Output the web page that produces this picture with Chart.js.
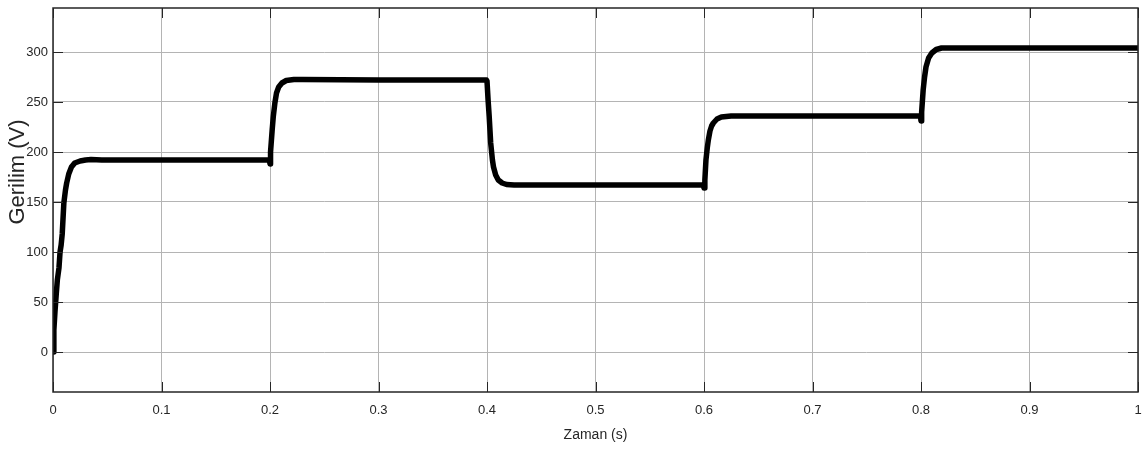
<!DOCTYPE html>
<html>
<head>
<meta charset="utf-8">
<script src="https://cdn.jsdelivr.net/npm/chart.js@4/dist/chart.umd.min.js"></script>
<style>
  html, body { margin: 0; padding: 0; background: #fff; }
  #voltChart { display: block; }
</style>
</head>
<body>
<canvas id="voltChart" width="1148" height="454"></canvas>
<script>
// time (s) and voltage (V)
var timeVals = [
  0, 0.0008, 0.0018, 0.003, 0.004, 0.0055, 0.0065, 0.0075, 0.0085, 0.010, 0.0115, 0.0126, 0.0145, 0.017, 0.020, 0.025, 0.030, 0.035, 0.045, 0.1, 0.1995,
  0.2, 0.2005, 0.202, 0.203, 0.2045, 0.206, 0.208, 0.211, 0.215, 0.222, 0.23, 0.3, 0.3995,
  0.4, 0.401, 0.402, 0.4034, 0.405, 0.406, 0.408, 0.4104, 0.414, 0.418, 0.425, 0.5, 0.5995,
  0.6, 0.6008, 0.6018, 0.603, 0.604, 0.6055, 0.607, 0.6086, 0.612, 0.616, 0.625, 0.7, 0.7995,
  0.8, 0.8006, 0.802, 0.8033, 0.8046, 0.807, 0.81, 0.814, 0.819, 0.83, 0.9, 1.0
];
var voltVals = [
  0, 22, 40, 58, 72, 84, 100, 107, 118, 149, 162, 169, 178, 185, 189, 191, 192, 192.5, 192, 192, 192,
  188, 200, 222, 235, 249, 259, 265, 269, 271.5, 272.5, 272.5, 272, 272,
  271, 252, 236, 209, 192, 185, 177, 172, 169, 167.5, 167, 167, 167,
  164, 172, 192, 204, 212, 221, 226, 229, 233, 235, 236, 236, 236,
  231, 240, 262, 275, 285, 294, 299, 302.5, 304, 304, 304, 304
];

var xTicks = [0, 0.1, 0.2, 0.3, 0.4, 0.5, 0.6, 0.7, 0.8, 0.9, 1];
var xTickLabels = ["0", "0.1", "0.2", "0.3", "0.4", "0.5", "0.6", "0.7", "0.8", "0.9", "1"];
var yTicks = [0, 50, 100, 150, 200, 250, 300];
var yTickLabels = ["0", "50", "100", "150", "200", "250", "300"];

var xMin = 0, xMax = 1;
var yMin = -40, yMax = 344;

var fontFamily = "'Liberation Sans', Arial, sans-serif";
var tickFont = { family: fontFamily, size: 13 };
var textColor = "#262626";
var gridColor = "#b4b4b4";

// MATLAB style box with ticks pointing inward
var frameTicks = {
  id: "frameTicks",
  afterDraw: function(chart) {
    var ctx = chart.ctx;
    var a = chart.chartArea;
    var x = chart.scales.x, y = chart.scales.y;
    ctx.save();
    ctx.strokeStyle = textColor;
    ctx.lineWidth = 1;
    ctx.beginPath();
    x.ticks.forEach(function(t) {
      var px = Math.round(x.getPixelForValue(t.value)) + 0.5;
      ctx.moveTo(px, a.bottom); ctx.lineTo(px, a.bottom - 10);
      ctx.moveTo(px, a.top); ctx.lineTo(px, a.top + 10);
    });
    y.ticks.forEach(function(t) {
      var py = Math.round(y.getPixelForValue(t.value)) + 0.5;
      ctx.moveTo(a.left, py); ctx.lineTo(a.left + 10, py);
      ctx.moveTo(a.right, py); ctx.lineTo(a.right - 10, py);
    });
    ctx.stroke();
    ctx.lineWidth = 1.5;
    ctx.strokeRect(a.left, a.top, a.right - a.left, a.bottom - a.top);

    // y axis title sits a bit above the axis middle in the original
    ctx.fillStyle = textColor;
    ctx.font = "22px " + fontFamily;
    ctx.textAlign = "center";
    ctx.textBaseline = "middle";
    ctx.translate(18, 172);
    ctx.rotate(-Math.PI / 2);
    ctx.fillText("Gerilim (V)", 0, 0);
    ctx.restore();
  }
};

var points = timeVals.map(function(t, i) { return { x: t, y: voltVals[i] }; });

new Chart(document.getElementById("voltChart").getContext("2d"), {
  type: "line",
  data: {
    datasets: [{
      data: points,
      borderColor: "#000",
      borderWidth: 5.5,
      pointRadius: 0,
      tension: 0,
      borderJoinStyle: "round",
      borderCapStyle: "butt",
      fill: false
    }]
  },
  options: {
    responsive: false,
    animation: false,
    events: [],
    layout: { padding: { left: 0, right: 10, top: 8, bottom: 0 } },
    plugins: { legend: { display: false }, tooltip: { enabled: false } },
    scales: {
      x: {
        type: "linear",
        min: xMin,
        max: xMax,
        afterBuildTicks: function(scale) {
          scale.ticks = xTicks.map(function(v) { return { value: v }; });
        },
        afterFit: function(scale) {
          scale.height = 62;
          scale.paddingLeft = 0;
          scale.paddingRight = 0;
        },
        ticks: {
          autoSkip: false,
          maxRotation: 0,
          padding: 11,
          color: textColor,
          font: tickFont,
          callback: function(v) { return xTickLabels[xTicks.indexOf(v)]; }
        },
        grid: { color: gridColor, drawTicks: false, lineWidth: 1 },
        border: { display: false },
        title: {
          display: true,
          text: "Zaman (s)",
          color: textColor,
          font: { family: fontFamily, size: 14 },
          padding: { top: 0, bottom: 10 }
        }
      },
      y: {
        type: "linear",
        min: yMin,
        max: yMax,
        afterBuildTicks: function(scale) {
          scale.ticks = yTicks.map(function(v) { return { value: v }; });
        },
        afterFit: function(scale) {
          scale.width = 53;
          scale.paddingTop = 0;
          scale.paddingBottom = 0;
        },
        ticks: {
          padding: 5,
          color: textColor,
          font: tickFont,
          callback: function(v) { return yTickLabels[yTicks.indexOf(v)]; }
        },
        grid: { color: gridColor, drawTicks: false, lineWidth: 1 },
        border: { display: false }
      }
    }
  },
  plugins: [frameTicks]
});
</script>
</body>
</html>
